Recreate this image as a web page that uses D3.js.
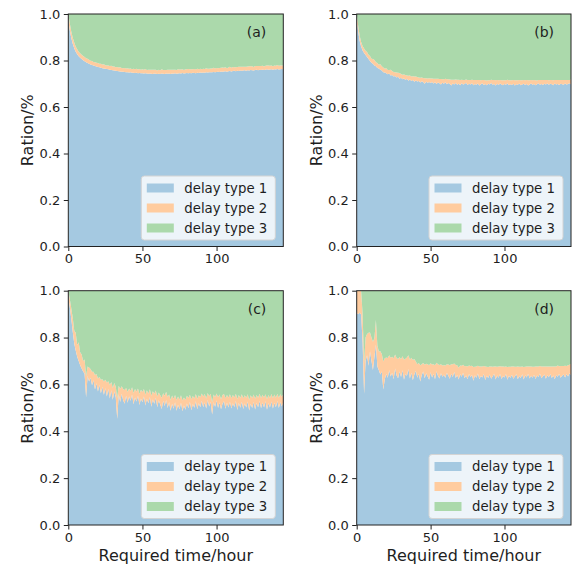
<!DOCTYPE html>
<html>
<head>
<meta charset="utf-8">
<script src="https://cdn.jsdelivr.net/npm/d3@7"></script>
<style>
  body { margin: 0; background: #fff; }
  svg { display: block; }
  text { font-family: "DejaVu Sans", sans-serif; fill: #1e1e1e; }
</style>
</head>
<body>
<svg id="chart" width="573" height="572"></svg>
<script>
// Hour grid of the simulation (0 .. 145 h)
const hours = d3.range(0, 146);
const xTicks = [0, 50, 100];
const yTicks = [0.0, 0.2, 0.4, 0.6, 0.8, 1.0];
const seriesNames = ["delay type 1", "delay type 2", "delay type 3"];
const panelLabels = ["(a)", "(b)", "(c)", "(d)"];

// Share of delay type 1 and type 2 per hour; type 3 is the remainder.
const aType1 = [
  0.970,0.930,0.897,0.872,0.853,0.838,0.827,0.818,0.812,0.806,
  0.801,0.797,0.793,0.789,0.786,0.783,0.781,0.778,0.776,0.774,
  0.772,0.771,0.769,0.767,0.766,0.764,0.763,0.762,0.760,0.759,
  0.758,0.757,0.756,0.755,0.754,0.753,0.752,0.752,0.751,0.750,
  0.749,0.748,0.749,0.747,0.747,0.746,0.747,0.745,0.746,0.745,
  0.745,0.744,0.745,0.744,0.743,0.744,0.743,0.742,0.744,0.743,
  0.742,0.743,0.742,0.744,0.743,0.742,0.744,0.743,0.744,0.742,
  0.744,0.743,0.745,0.743,0.744,0.745,0.744,0.746,0.744,0.745,
  0.746,0.745,0.746,0.745,0.747,0.746,0.745,0.747,0.746,0.748,
  0.747,0.748,0.747,0.749,0.748,0.750,0.749,0.750,0.751,0.750,
  0.751,0.752,0.751,0.753,0.752,0.753,0.754,0.752,0.754,0.755,
  0.753,0.755,0.756,0.754,0.756,0.755,0.757,0.756,0.757,0.758,
  0.756,0.758,0.757,0.759,0.758,0.757,0.759,0.760,0.758,0.760,
  0.759,0.761,0.759,0.760,0.762,0.760,0.761,0.762,0.760,0.762,
  0.761,0.763,0.761,0.762,0.763,0.762
];
const aType2 = [
  0.030,0.030,0.028,0.026,0.024,0.022,0.021,0.020,0.019,0.019,
  0.018,0.018,0.017,0.018,0.017,0.016,0.017,0.016,0.017,0.016,
  0.017,0.015,0.017,0.016,0.018,0.016,0.015,0.017,0.016,0.018,
  0.016,0.017,0.015,0.017,0.016,0.018,0.016,0.015,0.017,0.016,
  0.018,0.016,0.017,0.015,0.017,0.016,0.018,0.016,0.017,0.015,
  0.017,0.016,0.018,0.015,0.017,0.016,0.017,0.018,0.016,0.017,
  0.015,0.017,0.016,0.018,0.016,0.017,0.015,0.017,0.016,0.018,
  0.016,0.017,0.015,0.016,0.018,0.016,0.017,0.016,0.015,0.017,
  0.016,0.018,0.016,0.017,0.015,0.017,0.016,0.018,0.016,0.017,
  0.015,0.017,0.016,0.018,0.016,0.015,0.017,0.016,0.018,0.016,
  0.017,0.015,0.017,0.016,0.018,0.016,0.017,0.015,0.016,0.018,
  0.016,0.017,0.015,0.017,0.016,0.018,0.016,0.017,0.016,0.015,
  0.017,0.016,0.018,0.016,0.017,0.015,0.017,0.016,0.018,0.016,
  0.017,0.016,0.015,0.017,0.016,0.018,0.016,0.017,0.015,0.017,
  0.016,0.018,0.016,0.017,0.016,0.017
];

const bType1 = [
  0.970,0.925,0.885,0.860,0.843,0.832,0.824,0.815,0.806,0.798,
  0.790,0.786,0.779,0.775,0.768,0.766,0.760,0.757,0.750,0.748,
  0.745,0.741,0.744,0.735,0.738,0.731,0.733,0.727,0.730,0.722,
  0.726,0.719,0.723,0.716,0.721,0.713,0.718,0.712,0.716,0.709,
  0.714,0.710,0.712,0.705,0.711,0.707,0.700,0.709,0.704,0.708,
  0.703,0.707,0.701,0.706,0.699,0.705,0.702,0.697,0.704,0.700,
  0.706,0.698,0.703,0.699,0.692,0.701,0.697,0.703,0.696,0.700,
  0.694,0.702,0.697,0.699,0.704,0.695,0.700,0.697,0.702,0.694,
  0.699,0.696,0.701,0.693,0.698,0.702,0.695,0.699,0.694,0.700,
  0.697,0.703,0.696,0.699,0.692,0.700,0.695,0.701,0.697,0.694,
  0.699,0.696,0.702,0.694,0.698,0.695,0.700,0.693,0.698,0.696,
  0.701,0.694,0.697,0.700,0.695,0.699,0.693,0.697,0.701,0.696,
  0.699,0.694,0.698,0.702,0.696,0.699,0.695,0.700,0.697,0.701,
  0.696,0.700,0.698,0.694,0.701,0.697,0.699,0.695,0.700,0.698,
  0.696,0.701,0.697,0.699,0.702,0.698
];
const bType2 = [
  0.030,0.025,0.022,0.020,0.019,0.020,0.018,0.022,0.019,0.021,
  0.018,0.020,0.023,0.017,0.021,0.016,0.024,0.018,0.020,0.017,
  0.022,0.018,0.015,0.025,0.017,0.020,0.016,0.021,0.017,0.024,
  0.016,0.020,0.017,0.022,0.015,0.021,0.017,0.019,0.016,0.022,
  0.017,0.019,0.015,0.021,0.016,0.018,0.024,0.015,0.019,0.016,
  0.020,0.016,0.021,0.015,0.022,0.016,0.018,0.023,0.015,0.019,
  0.015,0.021,0.016,0.019,0.025,0.016,0.020,0.015,0.021,0.017,
  0.022,0.015,0.019,0.017,0.014,0.021,0.016,0.019,0.015,0.022,
  0.017,0.020,0.015,0.023,0.017,0.014,0.021,0.016,0.020,0.015,
  0.018,0.014,0.020,0.017,0.023,0.016,0.020,0.015,0.018,0.021,
  0.016,0.019,0.015,0.021,0.017,0.020,0.016,0.022,0.017,0.019,
  0.015,0.021,0.018,0.016,0.020,0.017,0.022,0.018,0.015,0.019,
  0.017,0.021,0.016,0.014,0.020,0.017,0.021,0.016,0.019,0.015,
  0.019,0.016,0.018,0.021,0.015,0.019,0.017,0.021,0.016,0.018,
  0.020,0.015,0.019,0.017,0.014,0.020
];

const cType1 = [
  0.970,0.930,0.880,0.825,0.775,0.745,0.718,0.700,0.682,0.668,
  0.655,0.646,0.545,0.636,0.612,0.628,0.596,0.618,0.578,0.605,
  0.570,0.598,0.562,0.590,0.556,0.584,0.548,0.580,0.540,0.575,
  0.535,0.570,0.545,0.452,0.558,0.525,0.560,0.532,0.518,0.552,
  0.522,0.548,0.530,0.556,0.515,0.544,0.527,0.552,0.512,0.540,
  0.524,0.548,0.510,0.539,0.520,0.546,0.505,0.536,0.517,0.543,
  0.503,0.532,0.514,0.495,0.530,0.508,0.534,0.499,0.524,0.488,
  0.517,0.496,0.524,0.488,0.513,0.494,0.522,0.485,0.510,0.492,
  0.519,0.498,0.526,0.490,0.516,0.500,0.528,0.494,0.520,0.503,
  0.530,0.503,0.523,0.497,0.533,0.506,0.525,0.472,0.524,0.505,
  0.531,0.499,0.523,0.494,0.518,0.528,0.496,0.522,0.502,0.526,
  0.497,0.520,0.504,0.529,0.491,0.521,0.500,0.526,0.495,0.519,
  0.502,0.527,0.489,0.518,0.499,0.525,0.493,0.521,0.503,0.529,
  0.498,0.523,0.502,0.528,0.492,0.520,0.501,0.527,0.497,0.521,
  0.503,0.529,0.499,0.524,0.506,0.526
];
const cType2 = [
  0.030,0.035,0.045,0.060,0.055,0.075,0.050,0.080,0.055,0.060,
  0.045,0.060,0.090,0.040,0.060,0.038,0.058,0.036,0.062,0.040,
  0.055,0.034,0.058,0.032,0.056,0.036,0.060,0.034,0.058,0.035,
  0.050,0.036,0.045,0.090,0.036,0.055,0.032,0.048,0.058,0.033,
  0.046,0.035,0.042,0.032,0.048,0.036,0.043,0.031,0.047,0.037,
  0.044,0.032,0.046,0.036,0.041,0.033,0.047,0.035,0.043,0.031,
  0.045,0.034,0.040,0.048,0.032,0.044,0.035,0.047,0.033,0.046,
  0.036,0.043,0.031,0.045,0.035,0.042,0.032,0.046,0.034,0.041,
  0.033,0.044,0.030,0.047,0.035,0.040,0.031,0.045,0.034,0.042,
  0.031,0.045,0.036,0.043,0.030,0.044,0.035,0.052,0.033,0.041,
  0.030,0.046,0.034,0.043,0.037,0.031,0.045,0.033,0.042,0.032,
  0.044,0.035,0.040,0.031,0.047,0.034,0.042,0.032,0.046,0.035,
  0.041,0.031,0.045,0.036,0.043,0.032,0.046,0.034,0.040,0.031,
  0.044,0.033,0.042,0.030,0.046,0.035,0.041,0.032,0.045,0.036,
  0.040,0.031,0.044,0.034,0.041,0.033
];

const dType1 = [
  0.905,0.900,0.906,0.898,0.780,0.560,0.700,0.725,0.680,0.742,
  0.700,0.662,0.718,0.770,0.676,0.660,0.642,0.655,0.578,0.622,
  0.645,0.628,0.660,0.634,0.650,0.622,0.668,0.638,0.626,0.655,
  0.632,0.660,0.620,0.645,0.637,0.666,0.625,0.650,0.618,0.642,
  0.658,0.628,0.646,0.612,0.640,0.655,0.626,0.648,0.634,0.620,
  0.652,0.630,0.644,0.622,0.656,0.636,0.625,0.648,0.633,0.641,
  0.628,0.650,0.637,0.624,0.646,0.632,0.654,0.627,0.640,0.621,
  0.643,0.633,0.650,0.626,0.638,0.622,0.645,0.631,0.640,0.616,
  0.639,0.628,0.647,0.622,0.636,0.630,0.644,0.619,0.637,0.627,
  0.642,0.624,0.635,0.646,0.621,0.638,0.629,0.644,0.623,0.636,
  0.630,0.645,0.620,0.637,0.628,0.641,0.624,0.634,0.645,0.622,
  0.636,0.627,0.643,0.621,0.639,0.630,0.646,0.625,0.637,0.628,
  0.641,0.623,0.638,0.632,0.647,0.626,0.635,0.642,0.624,0.639,
  0.631,0.644,0.627,0.638,0.622,0.640,0.633,0.646,0.628,0.637,
  0.642,0.630,0.645,0.634,0.648,0.640
];
const dType2 = [
  0.095,0.100,0.094,0.102,0.120,0.130,0.100,0.090,0.140,0.080,
  0.100,0.120,0.080,0.105,0.090,0.080,0.100,0.075,0.120,0.090,
  0.070,0.085,0.065,0.080,0.068,0.090,0.060,0.075,0.082,0.062,
  0.075,0.060,0.085,0.065,0.078,0.058,0.080,0.064,0.086,0.067,
  0.040,0.058,0.045,0.070,0.046,0.036,0.058,0.040,0.052,0.062,
  0.038,0.055,0.042,0.060,0.036,0.050,0.058,0.038,0.048,0.042,
  0.052,0.036,0.048,0.058,0.040,0.054,0.035,0.056,0.042,0.050,
  0.038,0.047,0.034,0.052,0.041,0.055,0.036,0.048,0.040,0.058,
  0.036,0.049,0.033,0.054,0.040,0.046,0.035,0.057,0.038,0.047,
  0.034,0.052,0.040,0.031,0.055,0.037,0.048,0.034,0.053,0.040,
  0.045,0.032,0.054,0.038,0.047,0.035,0.052,0.041,0.030,0.055,
  0.039,0.048,0.033,0.053,0.036,0.046,0.031,0.052,0.040,0.047,
  0.034,0.054,0.038,0.045,0.032,0.051,0.041,0.035,0.053,0.038,
  0.046,0.033,0.050,0.039,0.055,0.036,0.048,0.032,0.051,0.042,
  0.037,0.050,0.034,0.048,0.036,0.048
];

// Fill colours: tab10 blue / orange / green at 40 % opacity on white
const fills = ["#a5c9e1", "#ffcc9f", "#abd9ab"];

const panels = [
  { label: panelLabels[0], t1: aType1, t2: aType2, left: 68.3,  top: 14,    width: 215, height: 232.5, xTitle: false },
  { label: panelLabels[1], t1: bType1, t2: bType2, left: 356.7, top: 14,    width: 214.3, height: 232.5, xTitle: false },
  { label: panelLabels[2], t1: cType1, t2: cType2, left: 68.3,  top: 290.7, width: 215, height: 234.3, xTitle: true },
  { label: panelLabels[3], t1: dType1, t2: dType2, left: 356.7, top: 290.7, width: 214.3, height: 234.3, xTitle: true }
];

const svg = d3.select("#chart");
svg.append("rect").attr("width", 573).attr("height", 572).attr("fill", "#fff");

panels.forEach((p, pi) => {
  const rows = hours.map((h, i) => ({
    hour: h,
    t1: p.t1[i],
    t2: p.t2[i],
    t3: 1 - p.t1[i] - p.t2[i]
  }));

  const x = d3.scaleLinear().domain([0, 145]).range([0, p.width]);
  const y = d3.scaleLinear().domain([0, 1]).range([p.height, 0]);

  const g = svg.append("g").attr("transform", `translate(${p.left},${p.top})`);

  g.append("clipPath").attr("id", "clip" + pi)
    .append("rect").attr("width", p.width).attr("height", p.height);

  const stacked = d3.stack().keys(["t1", "t2", "t3"])(rows);
  const area = d3.area()
    .x(d => x(d.data.hour))
    .y0(d => y(d[0]))
    .y1(d => y(d[1]));

  g.append("g").attr("clip-path", `url(#clip${pi})`)
    .selectAll("path").data(stacked).join("path")
    .attr("d", area)
    .attr("fill", (d, i) => fills[i]);

  // axes
  const xAxis = g.append("g").attr("transform", `translate(0,${p.height})`)
    .call(d3.axisBottom(x).tickValues(xTicks).tickFormat(d3.format("d")).tickSize(4.5).tickPadding(3));
  const yAxis = g.append("g")
    .call(d3.axisLeft(y).tickValues(yTicks).tickFormat(d3.format(".1f")).tickSize(4.5).tickPadding(3.5));
  [xAxis, yAxis].forEach(ax => {
    ax.select(".domain").remove();
    ax.selectAll(".tick line").attr("stroke", "#222").attr("stroke-width", 1);
    ax.selectAll(".tick text").attr("font-size", 13).attr("font-family", "DejaVu Sans").attr("fill", "#1e1e1e");
  });

  // frame
  g.append("rect").attr("width", p.width).attr("height", p.height)
    .attr("fill", "none").attr("stroke", "#222").attr("stroke-width", 1);

  // panel tag
  g.append("text").attr("x", p.width - 17).attr("y", 23)
    .attr("text-anchor", "end").attr("font-size", 14).text(p.label);

  // y title
  g.append("text")
    .attr("transform", `translate(-35,${p.height / 2}) rotate(-90)`)
    .attr("text-anchor", "middle").attr("font-size", 16).text("Ration/%");

  if (p.xTitle) {
    g.append("text").attr("x", p.width / 2).attr("y", p.height + 36)
      .attr("text-anchor", "middle").attr("font-size", 16).text("Required time/hour");
  }

  // legend
  const lw = 134, lh = 64;
  const lg = g.append("g").attr("transform", `translate(${p.width - 8 - lw},${p.height - 6.5 - lh})`);
  lg.append("rect").attr("width", lw).attr("height", lh).attr("rx", 3)
    .attr("fill", "rgba(255,255,255,0.8)").attr("stroke", "#d4d4d4").attr("stroke-width", 1);
  seriesNames.forEach((name, i) => {
    const cy = 12 + i * 20;
    lg.append("rect").attr("x", 5.5).attr("y", cy - 4.5).attr("width", 27).attr("height", 9)
      .attr("fill", fills[i]);
    lg.append("text").attr("x", 43).attr("y", cy + 4.8).attr("font-size", 13.3).text(name);
  });
});
</script>
</body>
</html>
